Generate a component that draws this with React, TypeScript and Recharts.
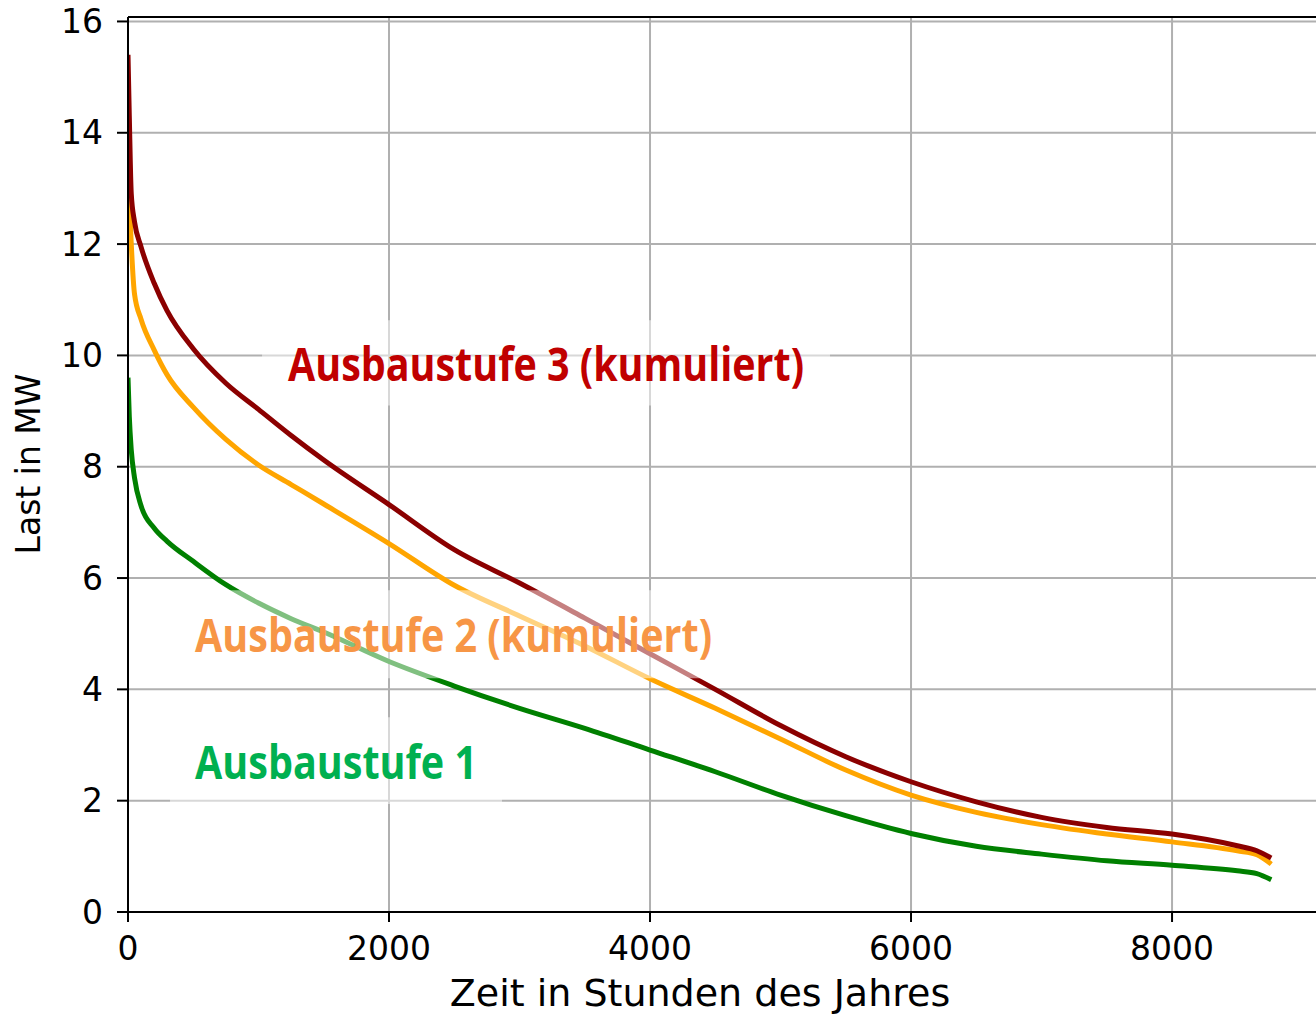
import React from "react";
import { LineChart, Line, XAxis, YAxis, CartesianGrid, ReferenceArea, ReferenceLine } from "recharts";

// Jahresdauerlinien der Last
const hours = [0, 10, 25, 50, 100, 200, 300, 500, 750, 1000, 1250, 1500, 2000, 2500, 3000, 3500, 4000, 4500, 5000, 5500, 6000, 6500, 7000, 7500, 8000, 8500, 8650, 8760];

const stufe1 = [9.6, 8.9, 8.3, 7.8, 7.3, 6.9, 6.66, 6.3, 5.88, 5.55, 5.27, 5.03, 4.5, 4.06, 3.66, 3.3, 2.91, 2.52, 2.1, 1.73, 1.41, 1.18, 1.04, 0.92, 0.84, 0.74, 0.69, 0.58];
const stufe2 = [13.4, 12.8, 12.0, 11.1, 10.65, 10.1, 9.65, 9.07, 8.49, 8.03, 7.68, 7.33, 6.62, 5.87, 5.32, 4.78, 4.19, 3.66, 3.11, 2.55, 2.1, 1.79, 1.57, 1.4, 1.26, 1.1, 1.03, 0.86];
const stufe3 = [15.4, 14.3, 12.9, 12.4, 11.95, 11.3, 10.8, 10.12, 9.5, 9.03, 8.56, 8.12, 7.32, 6.51, 5.91, 5.28, 4.64, 4.0, 3.35, 2.79, 2.34, 1.98, 1.7, 1.52, 1.4, 1.19, 1.1, 0.97];

const xTicks = [0, 2000, 4000, 6000, 8000];
const yTicks = [0, 2, 4, 6, 8, 10, 12, 14, 16];

const rows = hours.map((h, i) => ({ h, s1: stufe1[i], s2: stufe2[i], s3: stufe3[i] }));

const X_MAX = 9287;
const Y_MAX = 16.08;
const TICK_FONT = { fontSize: 33, fill: "#000", fontFamily: "'DejaVu Sans', sans-serif" };
const AXIS = { stroke: "#000", strokeWidth: 2 };

// Beschriftungen mit halbtransparentem weißen Kasten
const tag = (text: string, color: string, len: number) => (props: any) => {
  const vb = props.viewBox || {};
  const cx = vb.x + vb.width / 2;
  const cy = vb.y + vb.height / 2;
  return (
    <text
      x={cx}
      y={cy + 18}
      textAnchor="middle"
      fill={color}
      fontSize={47}
      fontWeight="bold"
      fontFamily="'Open Sans', 'Noto Sans', sans-serif"
      textLength={len}
      lengthAdjust="spacingAndGlyphs"
    >
      {text}
    </text>
  );
};

export default function App() {
  return (
    <div style={{ position: "absolute", left: 0, top: 0, width: 1316, height: 1015, overflow: "hidden", background: "#fff" }}>
      <LineChart width={1340} height={1015} data={rows} margin={{ top: 17, right: 0, bottom: 0, left: 0 }}>
        <CartesianGrid stroke="#b0b0b0" strokeWidth={2} />
        <XAxis
          dataKey="h"
          type="number"
          domain={[0, X_MAX]}
          ticks={xTicks}
          allowDataOverflow
          height={103}
          tickSize={10}
          tickMargin={15}
          tick={TICK_FONT}
          axisLine={AXIS}
          tickLine={AXIS}
        />
        <YAxis
          type="number"
          domain={[0, Y_MAX]}
          ticks={yTicks}
          allowDataOverflow
          width={128}
          tickSize={11}
          tickMargin={14}
          tick={TICK_FONT}
          axisLine={AXIS}
          tickLine={AXIS}
        />
        <ReferenceLine y={Y_MAX} stroke="#000" strokeWidth={2} />

        <Line type="monotone" dataKey="s1" stroke="#008000" strokeWidth={5} dot={false} activeDot={false} isAnimationActive={false} />
        <Line type="monotone" dataKey="s2" stroke="#FFA500" strokeWidth={5} dot={false} activeDot={false} isAnimationActive={false} />
        <Line type="monotone" dataKey="s3" stroke="#8B0000" strokeWidth={5} dot={false} activeDot={false} isAnimationActive={false} />

        <ReferenceArea
          x1={1027} x2={5379} y1={9.1} y2={10.63}
          fill="#fff" fillOpacity={0.5} stroke="none" ifOverflow="visible"
          zIndex={1000}
          label={tag("Ausbaustufe 3 (kumuliert)", "#C00000", 516)}
        />
        <ReferenceArea
          x1={322} x2={4667} y1={4.2} y2={5.78}
          fill="#fff" fillOpacity={0.5} stroke="none" ifOverflow="visible"
          zIndex={1000}
          label={tag("Ausbaustufe 2 (kumuliert)", "#F79646", 517)}
        />
        <ReferenceArea
          x1={322} x2={2866} y1={1.94} y2={3.5}
          fill="#fff" fillOpacity={0.5} stroke="none" ifOverflow="visible"
          zIndex={1000}
          label={tag("Ausbaustufe 1", "#00B050", 282)}
        />
      </LineChart>
      <svg width={1316} height={1015} style={{ position: "absolute", left: 0, top: 0, pointerEvents: "none" }}>
        <text x={700} y={1006} textAnchor="middle" fontSize={38} fontFamily="'DejaVu Sans', sans-serif" fill="#000">
          Zeit in Stunden des Jahres
        </text>
        <text
          x={40}
          y={464}
          textAnchor="middle"
          fontSize={33}
          fontFamily="'DejaVu Sans', sans-serif"
          fill="#000"
          transform="rotate(-90 40 464)"
        >
          Last in MW
        </text>
      </svg>
    </div>
  );
}
